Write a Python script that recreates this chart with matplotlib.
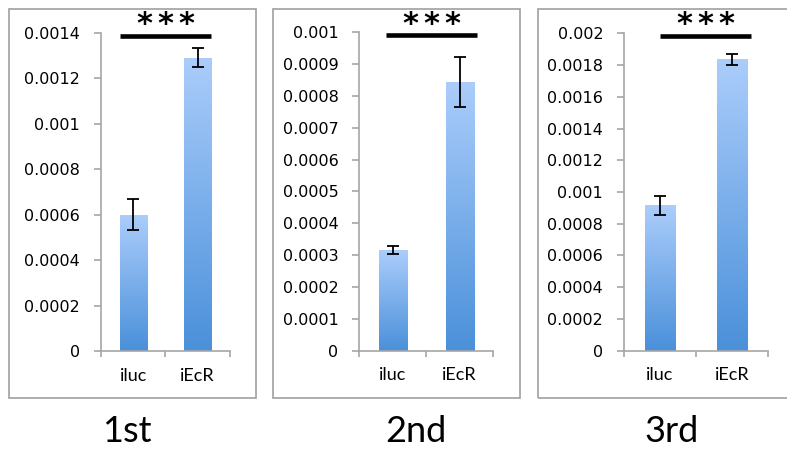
import numpy as np
import matplotlib
matplotlib.use("Agg")
import matplotlib.pyplot as plt
import matplotlib.transforms as mtransforms
from matplotlib.colors import LinearSegmentedColormap
from matplotlib.patches import Rectangle
from matplotlib.ticker import FuncFormatter, MultipleLocator

categories = ["iluc", "iEcR"]
panel_titles = ["1st", "2nd", "3rd"]
means = [
    [0.000600, 0.001292],
    [0.000316, 0.000844],
    [0.000916, 0.001836],
]
errors = [
    [0.000068, 0.000040],
    [0.0000125, 0.000078],
    [0.000058, 0.000035],
]
y_max = [0.0014, 0.001, 0.002]
y_step = [0.0002, 0.0001, 0.0002]
sig_label = "***"

# layout (figure fractions) and significance line spans (data x)
axes_rects = [
    [0.1283, 0.2183, 0.1639, 0.7082],
    [0.4565, 0.2189, 0.1699, 0.7092],
    [0.7929, 0.2189, 0.1833, 0.7069],
]
box_rects = [
    [0.0114, 0.1136, 0.3139, 0.8664],
    [0.3469, 0.1136, 0.3138, 0.8664],
    [0.6836, 0.1136, 0.3300, 0.8664],
]
title_x = [0.161, 0.529, 0.853]
sig_spans = [(-0.205, 1.205), (-0.105, 1.256), (0.0, 1.256)]

grad_cmap = LinearSegmentedColormap.from_list("bar", ["#4a90da", "#abcdfb"])
spine_col = "#a6a6a6"
box_col = "#a0a0a0"

fig = plt.figure(figsize=(7.87, 4.49), dpi=100)

for i in range(3):
    # panel frame
    fig.patches.append(Rectangle(box_rects[i][:2], box_rects[i][2], box_rects[i][3],
                                 transform=fig.transFigure, fill=False,
                                 edgecolor=box_col, linewidth=1.2, zorder=0))

    ax = fig.add_axes(axes_rects[i])
    x = np.arange(len(categories))
    bars = ax.bar(x, means[i], width=0.42, color="none", edgecolor="none", zorder=2)

    grad = np.linspace(0, 1, 256).reshape(-1, 1)
    for b in bars:
        x0, w, h = b.get_x(), b.get_width(), b.get_height()
        im = ax.imshow(grad, extent=[x0, x0 + w, 0, h], origin="lower",
                       aspect="auto", cmap=grad_cmap, zorder=2)
        im.set_clip_path(b)

    ax.errorbar(x, means[i], yerr=errors[i], fmt="none", ecolor="black",
                elinewidth=1.3, capsize=4.5, capthick=1.3, zorder=3)

    ax.set_xlim(-0.5, len(categories) - 0.5)
    ax.set_ylim(0, y_max[i])
    ax.yaxis.set_major_locator(MultipleLocator(y_step[i]))
    ax.yaxis.set_major_formatter(FuncFormatter(lambda v, p: f"{v:.6g}" if v > 1e-12 else "0"))

    ax.set_xticks(x)
    ax.set_xticklabels(categories, fontfamily="Lato", fontsize=13)
    ax.set_xticks([-0.5, 0.5, 1.5], minor=True)
    ax.tick_params(axis="x", which="major", length=0, pad=12)
    ax.tick_params(axis="x", which="minor", length=4, width=1.2, color=spine_col, direction="out")
    ax.tick_params(axis="y", length=5, width=1.2, color=spine_col, direction="out",
                   labelsize=11.5, pad=10)

    for s in ["top", "right"]:
        ax.spines[s].set_visible(False)
    for s in ["left", "bottom"]:
        ax.spines[s].set_color(spine_col)
        ax.spines[s].set_linewidth(1.2)
    ax.set_facecolor("none")

    # significance bar + spaced stars
    xa, xb = sig_spans[i]
    ax.plot([xa, xb], [0.99, 0.99], color="black", linewidth=3.3,
            transform=ax.get_xaxis_transform(), clip_on=False, solid_capstyle="butt")
    base = mtransforms.blended_transform_factory(ax.transData, fig.transFigure)
    for k, ch in enumerate(sig_label):
        dx = (k - (len(sig_label) - 1) / 2) * 15.1
        tr = mtransforms.offset_copy(base, fig=fig, x=dx, y=0, units="points")
        ax.text((xa + xb) / 2, 0.926, ch, transform=tr, ha="center", va="baseline",
                fontsize=22, fontweight="bold", fontfamily="DejaVu Sans")

    fig.text(title_x[i], 0.04, panel_titles[i], ha="center", va="center",
             fontsize=26, fontfamily="Lato")

fig.savefig("out.png", dpi=100)
